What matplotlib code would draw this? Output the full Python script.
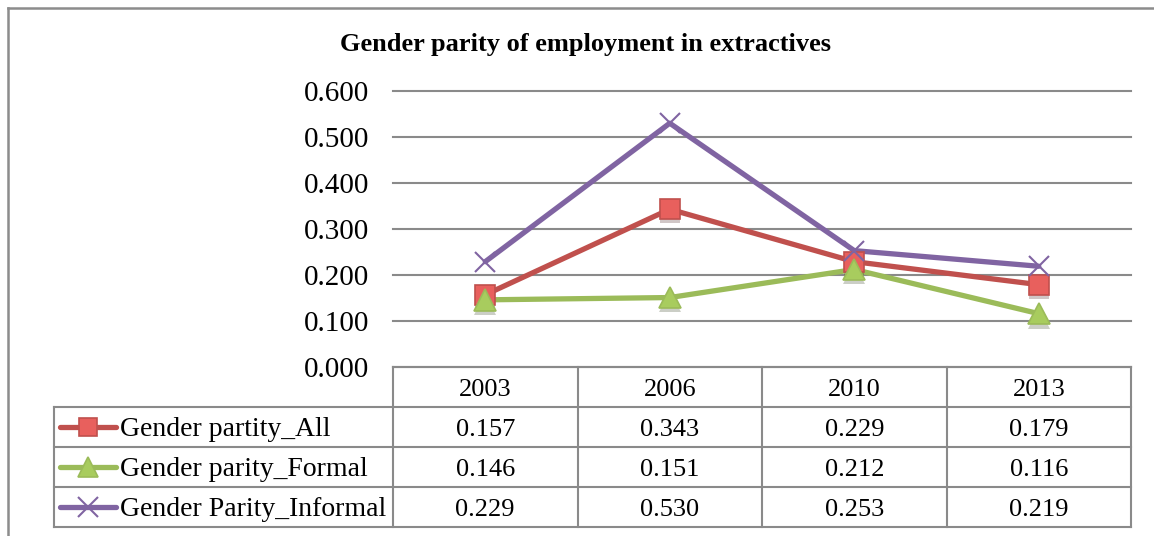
import matplotlib
matplotlib.use("Agg")
import matplotlib.pyplot as plt
import matplotlib.patheffects as pe
from matplotlib.lines import Line2D

years = ["2003", "2006", "2010", "2013"]
series_names = ["Gender partity_All", "Gender parity_Formal", "Gender Parity_Informal"]
all_vals = [0.157, 0.343, 0.229, 0.179]
formal_vals = [0.146, 0.151, 0.212, 0.116]
informal_vals = [0.229, 0.530, 0.253, 0.219]
yticks = [0.0, 0.1, 0.2, 0.3, 0.4, 0.5, 0.6]
title = "Gender parity of employment in extractives"

colors = ["#C0504D", "#9BBB59", "#8064A2"]
face = ["#E8605D", "#A8CC5E", "#8064A2"]
markers = ["s", "^", "x"]
msizes = [14.5, 15.5, 14.5]
series = [all_vals, formal_vals, informal_vals]

W, H = 1154, 536
fig = plt.figure(figsize=(W / 100, H / 100), dpi=100)
FONT = "Liberation Serif"
GRID = "#8a8a8a"

def px_axes(x0, y0, x1, y1):
    return fig.add_axes([x0 / W, 1 - y1 / H, (x1 - x0) / W, (y1 - y0) / H])

# main plot
L, R, T, B = 393, 1131, 91, 367
ax = px_axes(L, T, R, B)
ax.set_xlim(-0.5, len(years) - 0.5)
ax.set_ylim(0, 0.6)
ax.set_yticks(yticks)
ax.set_yticklabels([f"{v:.3f}" for v in yticks], fontfamily=FONT, fontsize=21)
ax.tick_params(axis="y", length=0, pad=17)
ax.set_xticks([])
for s in ax.spines.values():
    s.set_visible(False)
for v in yticks:
    ax.axhline(v, color=GRID, lw=1.5, zorder=1, clip_on=False)
xs = list(range(len(years)))
for vals, c, fc, m, ms in zip(series, colors, face, markers, msizes):
    ax.plot(xs, vals, color=c, lw=3.8, zorder=3, solid_capstyle="round")
    if m == "x":
        ax.plot(xs, vals, ls="none", marker=m, ms=ms, mew=1.5, color=c, zorder=4)
    else:
        ax.plot(xs, vals, ls="none", marker=m, ms=ms, mfc=fc, mec=c, mew=1.2, zorder=4,
                path_effects=[pe.SimplePatchShadow(offset=(0, -3), alpha=0.25), pe.Normal()])
ax.set_facecolor("none")

fig.text(585 / W, 1 - 45 / H, title, ha="center", va="center", fontfamily=FONT,
         fontweight="bold", fontsize=19)

# table
TL, TT, TB = 54, 367, 527
rowh = 40
toff = 3
tax = px_axes(TL, TT, R, TB)
col_w = (R - L) / len(years)
left_ext = -0.5 - (L - TL) / col_w
tax.set_xlim(left_ext, len(years) - 0.5)
tax.set_ylim(TB - TT, 0)
tax.axis("off")
lc = GRID
lw = 1.5
tax.plot([-0.5, len(years) - 0.5], [0, 0], color=lc, lw=lw, clip_on=False)
for i in range(len(series) + 1):
    y = rowh * (i + 1)
    tax.plot([left_ext, len(years) - 0.5], [y, y], color=lc, lw=lw, clip_on=False)
for k in range(len(years) + 1):
    x = -0.5 + k
    tax.plot([x, x], [0, TB - TT], color=lc, lw=lw, clip_on=False)
tax.plot([left_ext, left_ext], [rowh, TB - TT], color=lc, lw=lw, clip_on=False)
for j, yr in enumerate(years):
    tax.text(j, rowh * 0.5 + toff, yr, ha="center", va="center", fontfamily=FONT, fontsize=19)
for i, (name, vals) in enumerate(zip(series_names, series)):
    yc = rowh * (i + 1.5)
    for j, v in enumerate(vals):
        tax.text(j, yc + toff, f"{v:.3f}", ha="center", va="center", fontfamily=FONT, fontsize=19)
    # legend key
    x0 = left_ext + 6 / col_w
    x1 = left_ext + 62 / col_w
    tax.plot([x0, x1], [yc, yc], color=colors[i], lw=3.8, solid_capstyle="round", clip_on=False)
    if markers[i] == "x":
        tax.plot([(x0 + x1) / 2], [yc], marker="x", ms=msizes[i], mew=1.5, color=colors[i], clip_on=False)
    else:
        tax.plot([(x0 + x1) / 2], [yc], marker=markers[i], ms=msizes[i] - 1, mfc=face[i],
                 mec=colors[i], mew=1.2, clip_on=False)
    tax.text(left_ext + 66 / col_w, yc + toff, name, ha="left", va="center", fontfamily=FONT, fontsize=20)

# outer frame
fig.add_artist(Line2D([8 / W, 8 / W], [0, 1 - 8 / H], color="#8c8c8c", lw=1.8))
fig.add_artist(Line2D([8 / W, 1], [1 - 8 / H, 1 - 8 / H], color="#8c8c8c", lw=1.8))

fig.savefig("out.png", dpi=100)
